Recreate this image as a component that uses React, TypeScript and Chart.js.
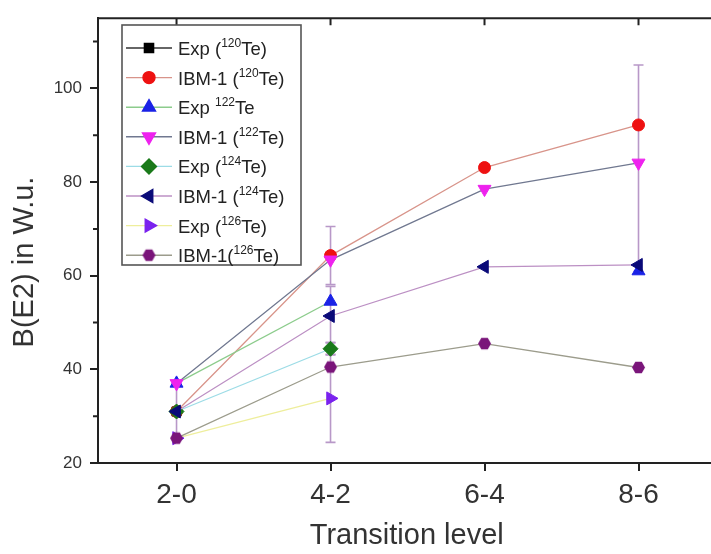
import React, { useEffect, useRef } from 'react';
import { Chart, registerables } from 'chart.js';
import { drawPoint } from 'chart.js/helpers';

Chart.register(...registerables);

// ---------- data ----------
const categories = ['2-0', '4-2', '6-4', '8-6'];

const exp120 = [31, null, null, null];
const ibm120 = [31, 64.3, 83.1, 92.2];
const exp122 = [37, 54.5, null, 61];
const ibm122 = [37, 63.4, 78.5, 84.1];
const exp124 = [31, 44.4, null, null];
const ibm124 = [31, 51.4, 61.9, 62.3];
const exp126 = [25.3, 33.8, null, null];
const ibm126 = [25.3, 40.5, 45.5, 40.4];

// error bars (minus / plus)
const exp120ErrMinus = [6, null, null, null];
const exp120ErrPlus = [6, null, null, null];
const ibm120ErrMinus = [null, 6.2, null, null];
const ibm120ErrPlus = [null, 6.2, null, null];
const exp122ErrMinus = [null, 8.8, null, 0];
const exp122ErrPlus = [null, 3.2, null, 44];
const exp124ErrMinus = [null, 1.3, null, null];
const exp124ErrPlus = [null, 1.3, null, null];
const exp126ErrMinus = [null, 9.4, null, null];
const exp126ErrPlus = [null, 9.4, null, null];

const yTickValues = [20, 40, 60, 80, 100];
const yMinorTickValues = [30, 50, 70, 90, 110];

const legendPrefix = ['Exp (', 'IBM-1 (', 'Exp ', 'IBM-1 (', 'Exp (', 'IBM-1 (', 'Exp (', 'IBM-1('];
const legendSup = ['120', '120', '122', '122', '124', '124', '126', '126'];
const legendSuffix = ['Te)', 'Te)', 'Te', 'Te)', 'Te)', 'Te)', 'Te)', 'Te)'];

const xTitle = 'Transition level';
const yTitle = 'B(E2) in W.u.';

// ---------- styles ----------
const FONT = '"Liberation Sans", Arial, Helvetica, sans-serif';
const AXIS_COLOR = '#222222';
const TEXT_COLOR = '#333333';
const ERR_COLOR = '#b898c8';

function makeHexagon(color: string, r: number) {
  const size = Math.ceil(r * 2 + 2);
  const c = document.createElement('canvas');
  c.width = size;
  c.height = size;
  const g = c.getContext('2d')!;
  g.beginPath();
  for (let k = 0; k < 6; k++) {
    const a = (Math.PI / 3) * k;
    const px = size / 2 + r * Math.cos(a);
    const py = size / 2 + r * Math.sin(a);
    if (k === 0) g.moveTo(px, py);
    else g.lineTo(px, py);
  }
  g.closePath();
  g.fillStyle = color;
  g.fill();
  return c;
}

const toPoints = (vals: (number | null)[]) => vals.map((v, i) => ({ x: i + 1, y: v }));

export default function App() {
  const ref = useRef<HTMLCanvasElement>(null);

  useEffect(() => {
    const canvas = ref.current!;
    const hexagon = makeHexagon('#7a157a', 6.5);

    const seriesDefs = [
      { values: exp120, line: '#333333', marker: '#000000', style: 'rect', rot: 0, r: 6.5, em: exp120ErrMinus, ep: exp120ErrPlus },
      { values: ibm120, line: '#d8948a', marker: '#ee1111', style: 'circle', rot: 0, r: 6, em: ibm120ErrMinus, ep: ibm120ErrPlus },
      { values: exp122, line: '#8ccc8c', marker: '#1a22e6', style: 'triangle', rot: 0, r: 7.5, em: exp122ErrMinus, ep: exp122ErrPlus },
      { values: ibm122, line: '#707890', marker: '#ee22ee', style: 'triangle', rot: 180, r: 7.5, em: null, ep: null },
      { values: exp124, line: '#9cdce6', marker: '#1a7a1a', style: 'rectRot', rot: 0, r: 7.5, em: exp124ErrMinus, ep: exp124ErrPlus },
      { values: ibm124, line: '#bc90c4', marker: '#0a0a78', style: 'triangle', rot: 270, r: 7.5, em: null, ep: null },
      { values: exp126, line: '#eeee9c', marker: '#7a22ee', style: 'triangle', rot: 90, r: 7.5, em: exp126ErrMinus, ep: exp126ErrPlus },
      { values: ibm126, line: '#9c9c8c', marker: '#7a157a', style: hexagon as any, rot: 0, r: 6.5, em: null, ep: null },
    ];

    const datasets = seriesDefs.map((s, i) => ({
      label: legendPrefix[i] + legendSup[i] + legendSuffix[i],
      data: toPoints(s.values),
      order: seriesDefs.length - i,
      borderColor: s.line,
      backgroundColor: s.marker,
      borderWidth: 1.3,
      pointStyle: s.style,
      pointRotation: s.rot,
      pointRadius: s.r,
      pointBackgroundColor: s.marker,
      pointBorderColor: s.marker,
      pointBorderWidth: 1,
      spanGaps: false,
      tension: 0,
      errMinus: s.em,
      errPlus: s.ep,
    }));

    const decorPlugin = {
      id: 'decor',
      beforeDatasetsDraw(chart: any) {
        const { ctx, scales } = chart;
        const x = scales.x;
        const y = scales.y;
        ctx.save();
        ctx.strokeStyle = ERR_COLOR;
        ctx.lineWidth = 1.6;
        chart.data.datasets.forEach((ds: any) => {
          if (!ds.errMinus) return;
          ds.data.forEach((p: any, i: number) => {
            if (p.y == null || ds.errMinus[i] == null) return;
            const px = x.getPixelForValue(p.x);
            const yt = y.getPixelForValue(p.y + ds.errPlus[i]);
            const yb = y.getPixelForValue(p.y - ds.errMinus[i]);
            ctx.beginPath();
            ctx.moveTo(px, yt);
            ctx.lineTo(px, yb);
            ctx.moveTo(px - 5, yt);
            ctx.lineTo(px + 5, yt);
            ctx.moveTo(px - 5, yb);
            ctx.lineTo(px + 5, yb);
            ctx.stroke();
          });
        });
        ctx.restore();
      },
      afterDraw(chart: any) {
        const { ctx, chartArea: a, scales } = chart;
        const x = scales.x;
        const y = scales.y;
        ctx.save();
        // top frame line
        ctx.strokeStyle = AXIS_COLOR;
        ctx.lineWidth = 2;
        ctx.beginPath();
        ctx.moveTo(a.left - 1, a.top);
        ctx.lineTo(a.right + 5, a.top);
        ctx.stroke();
        // top inward ticks
        ctx.beginPath();
        categories.forEach((_, i) => {
          const px = x.getPixelForValue(i + 1);
          ctx.moveTo(px, a.top);
          ctx.lineTo(px, a.top + 7);
        });
        // minor y ticks (outward)
        yMinorTickValues.forEach((v) => {
          const py = y.getPixelForValue(v);
          ctx.moveTo(a.left, py);
          ctx.lineTo(a.left - 5, py);
        });
        ctx.stroke();

        // y title
        ctx.fillStyle = TEXT_COLOR;
        ctx.font = `29px ${FONT}`;
        ctx.textAlign = 'center';
        ctx.textBaseline = 'middle';
        ctx.translate(25, 262);
        ctx.rotate(-Math.PI / 2);
        ctx.fillText(yTitle, 0, 0);
        ctx.setTransform(1, 0, 0, 1, 0, 0);

        // legend
        const bx = 122, by = 25, bw = 179, bh = 240;
        ctx.fillStyle = '#ffffff';
        ctx.fillRect(bx, by, bw, bh);
        ctx.strokeStyle = '#555555';
        ctx.lineWidth = 1.6;
        ctx.strokeRect(bx, by, bw, bh);
        const rowH = 29.6;
        chart.data.datasets.forEach((ds: any, i: number) => {
          const cy = 48 + i * rowH;
          ctx.strokeStyle = ds.borderColor;
          ctx.lineWidth = 1.4;
          ctx.beginPath();
          ctx.moveTo(126, cy);
          ctx.lineTo(172, cy);
          ctx.stroke();
          ctx.fillStyle = ds.pointBackgroundColor;
          ctx.strokeStyle = ds.pointBorderColor;
          drawPoint(ctx, { pointStyle: ds.pointStyle, rotation: ds.pointRotation, radius: ds.pointRadius, borderWidth: 1 } as any, 149, cy);
          // text
          ctx.fillStyle = '#222222';
          ctx.textAlign = 'left';
          ctx.textBaseline = 'alphabetic';
          let tx = 178;
          ctx.font = `18.5px ${FONT}`;
          ctx.fillText(legendPrefix[i], tx, cy + 7);
          tx += ctx.measureText(legendPrefix[i]).width;
          ctx.font = `12px ${FONT}`;
          ctx.fillText(legendSup[i], tx, cy - 1);
          tx += ctx.measureText(legendSup[i]).width;
          ctx.font = `18.5px ${FONT}`;
          ctx.fillText(legendSuffix[i], tx, cy + 7);
        });
        ctx.restore();
      },
    };

    const chart = new Chart(canvas, {
      type: 'line',
      data: { datasets: datasets as any },
      plugins: [decorPlugin],
      options: {
        animation: false,
        responsive: false,
        devicePixelRatio: 1,
        layout: { padding: { left: 0, top: 12, right: 3, bottom: 0 } },
        plugins: { legend: { display: false }, tooltip: { enabled: false } },
        scales: {
          x: {
            type: 'linear',
            min: 0.49,
            max: 4.5,
            afterFit: (s: any) => { s.height = 91; },
            afterBuildTicks: (s: any) => { s.ticks = categories.map((_, i) => ({ value: i + 1 })); },
            ticks: {
              autoSkip: false,
              maxRotation: 0,
              padding: 7,
              color: TEXT_COLOR,
              font: { family: FONT, size: 28 },
              callback: (v: any) => categories[Math.round(Number(v)) - 1] ?? '',
            },
            grid: { drawOnChartArea: false, drawTicks: true, tickLength: 8, color: AXIS_COLOR, lineWidth: 2 },
            border: { display: true, color: AXIS_COLOR, width: 2 },
            title: { display: true, text: xTitle, color: TEXT_COLOR, font: { family: FONT, size: 29 }, padding: { top: 0, bottom: 1 } },
          },
          y: {
            type: 'linear',
            min: 20,
            max: 115,
            afterFit: (s: any) => { s.width = 98; },
            afterBuildTicks: (s: any) => { s.ticks = yTickValues.map((v) => ({ value: v })); },
            ticks: {
              padding: 8,
              color: TEXT_COLOR,
              font: { family: FONT, size: 17 },
            },
            grid: { drawOnChartArea: false, drawTicks: true, tickLength: 8, color: AXIS_COLOR, lineWidth: 2 },
            border: { display: true, color: AXIS_COLOR, width: 2 },
          },
        },
      } as any,
    });
    return () => chart.destroy();
  }, []);

  return (
    <div style={{ position: 'fixed', left: 0, top: 0, width: 711, height: 554, overflow: 'hidden', background: '#ffffff' }}>
      <canvas ref={ref} width={724} height={554} style={{ display: 'block' }} />
    </div>
  );
}
